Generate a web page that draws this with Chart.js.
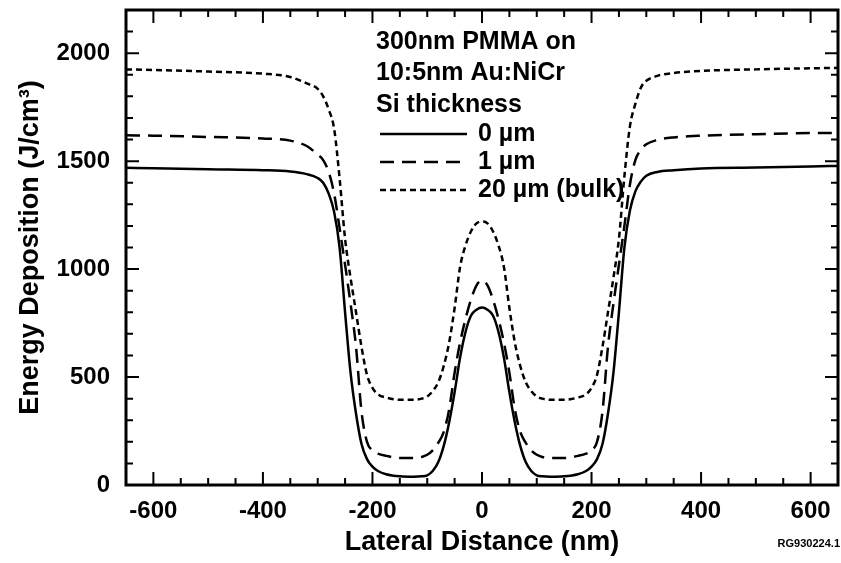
<!DOCTYPE html>
<html>
<head>
<meta charset="utf-8">
<script src="https://cdn.jsdelivr.net/npm/chart.js@4.4.1/dist/chart.umd.min.js"></script>
<style>
  html, body { margin: 0; padding: 0; background: #fff; }
</style>
</head>
<body>
<canvas id="myChart" width="841" height="563"></canvas>
<script>
// lateral distance (nm)
const distance = [
  -650, -600, -500, -400, -350, -320, -300, -290, -280, -270, -260, -250, -240, -230, -220, -210,
  -200, -190, -175, -150, -125, -110, -100, -90, -80, -70, -60, -50, -40, -30, -20, -10, 0,
  10, 20, 30, 40, 50, 60, 70, 80, 90, 100, 110, 125, 150, 175, 190, 200,
  210, 220, 230, 240, 250, 260, 270, 280, 290, 300, 320, 350, 400, 500, 600, 650
];
// energy deposition (J/cm3), Si thickness 0 um
const si0 = [
  1469, 1467, 1462, 1458, 1452, 1440, 1422, 1400, 1350, 1265, 1100, 800, 520, 330, 190, 120,
  85, 65, 50, 40, 38, 40, 45, 65, 105, 180, 290, 430, 590, 710, 785, 812, 822,
  812, 785, 710, 590, 430, 290, 180, 105, 65, 45, 40, 38, 40, 50, 65, 85,
  120, 190, 330, 520, 800, 1100, 1270, 1360, 1405, 1432, 1450, 1458, 1466, 1470, 1475, 1478
];
// Si thickness 1 um
const si1 = [
  1620, 1618, 1612, 1605, 1595, 1570, 1530, 1505, 1450, 1350, 1190, 1020, 840, 640, 340, 200,
  160, 145, 135, 125, 125, 130, 140, 160, 195, 245, 350, 520, 660, 770, 860, 925, 947,
  925, 860, 770, 660, 520, 350, 245, 195, 160, 140, 130, 125, 125, 135, 145, 160,
  200, 340, 640, 840, 1020, 1200, 1390, 1505, 1552, 1578, 1598, 1610, 1618, 1625, 1630, 1631
];
// Si thickness 20 um (bulk)
const si20 = [
  1925, 1922, 1915, 1905, 1890, 1860, 1835, 1800, 1740, 1650, 1420, 1140, 960, 800, 640, 510,
  450, 420, 405, 395, 395, 400, 410, 435, 475, 550, 660, 820, 1010, 1110, 1175, 1212, 1220,
  1212, 1175, 1110, 1010, 820, 660, 550, 475, 435, 410, 400, 395, 395, 405, 420, 450,
  510, 640, 800, 960, 1140, 1430, 1660, 1765, 1840, 1872, 1895, 1908, 1918, 1925, 1930, 1932
];
const seriesLabels = ['0 \u00b5m', '1 \u00b5m', '20 \u00b5m (bulk)'];
const seriesDash = [[], [14, 8], [6, 4]];
const xTickValues = [-600, -400, -200, 0, 200, 400, 600];
const yTickValues = [0, 500, 1000, 1500, 2000];
const notes = ['300nm PMMA on', '10:5nm Au:NiCr', 'Si thickness'];
const refCode = 'RG930224.1';

const FONT = "'Liberation Sans', Arial, Helvetica, sans-serif";

function pts(vals) {
  return distance.map((d, i) => ({ x: d, y: vals[i] }));
}

function noPad(s) {
  s.paddingTop = 0; s.paddingBottom = 0; s.paddingLeft = 0; s.paddingRight = 0;
}

const frame = {
  id: 'frame',
  afterDraw(chart) {
    const { ctx, chartArea: a, scales: { x, y } } = chart;
    ctx.save();
    ctx.strokeStyle = '#000';
    ctx.lineCap = 'butt';
    ctx.lineWidth = 2;
    ctx.beginPath();
    for (let v = -650; v <= 650; v += 50) {
      const px = x.getPixelForValue(v);
      const len = v % 200 === 0 ? 13 : 7;
      ctx.moveTo(px, a.bottom); ctx.lineTo(px, a.bottom - len);
      ctx.moveTo(px, a.top); ctx.lineTo(px, a.top + len);
    }
    for (let v = 0; v <= 2200; v += 100) {
      const py = y.getPixelForValue(v);
      const len = v % 500 === 0 ? 13 : 7;
      ctx.moveTo(a.left, py); ctx.lineTo(a.left + len, py);
      ctx.moveTo(a.right, py); ctx.lineTo(a.right - len, py);
    }
    ctx.stroke();
    ctx.lineWidth = 3;
    ctx.strokeRect(a.left, a.top, a.right - a.left, a.bottom - a.top);

    // annotation and legend
    ctx.fillStyle = '#000';
    ctx.font = 'bold 25px ' + FONT;
    ctx.textBaseline = 'middle';
    ctx.textAlign = 'left';
    notes.forEach((t, i) => ctx.fillText(t, 376, 42 + i * 31.5));
    chart.data.datasets.forEach((ds, i) => {
      const ly = 134 + i * 28;
      ctx.lineWidth = 2.5;
      ctx.setLineDash(ds.borderDash);
      ctx.beginPath();
      ctx.moveTo(380, ly); ctx.lineTo(467, ly);
      ctx.stroke();
      ctx.setLineDash([]);
      ctx.fillText(ds.label, 478, ly);
    });

    ctx.font = 'bold 11px ' + FONT;
    ctx.textAlign = 'right';
    ctx.fillText(refCode, 840, 544);
    ctx.restore();
  }
};

const data = {
  datasets: [si0, si1, si20].map((vals, i) => ({
    label: seriesLabels[i],
    data: pts(vals),
    borderColor: '#000',
    borderWidth: 2.5,
    borderDash: seriesDash[i],
    pointRadius: 0,
    fill: false,
    cubicInterpolationMode: 'monotone'
  }))
};

const config = {
  type: 'line',
  data: data,
  options: {
    responsive: false,
    animation: false,
    layout: { padding: { top: 10, right: 3, left: 0, bottom: 0 } },
    plugins: { legend: { display: false }, tooltip: { enabled: false } },
    scales: {
      x: {
        type: 'linear',
        min: -650,
        max: 650,
        afterBuildTicks: s => { s.ticks = xTickValues.map(v => ({ value: v })); },
        afterFit: s => { s.height = 78; noPad(s); },
        grid: { display: false, drawTicks: false },
        border: { display: false },
        ticks: {
          color: '#000',
          padding: 12,
          maxRotation: 0,
          autoSkip: false,
          font: { family: FONT, size: 24, weight: 'bold' },
          callback: v => String(v)
        },
        title: {
          display: true,
          text: 'Lateral Distance (nm)',
          color: '#000',
          font: { family: FONT, size: 27, weight: 'bold' },
          padding: { top: 0, bottom: 4 }
        }
      },
      y: {
        type: 'linear',
        min: 0,
        max: 2200,
        afterBuildTicks: s => { s.ticks = yTickValues.map(v => ({ value: v })); },
        afterFit: s => { s.width = 126; noPad(s); },
        grid: { display: false, drawTicks: false },
        border: { display: false },
        ticks: {
          color: '#000',
          padding: 16,
          autoSkip: false,
          font: { family: FONT, size: 24, weight: 'bold' },
          callback: v => String(v)
        },
        title: {
          display: true,
          text: 'Energy Deposition (J/cm\u00b3)',
          color: '#000',
          font: { family: FONT, size: 27, weight: 'bold' },
          padding: { top: 14, bottom: 0 }
        }
      }
    }
  },
  plugins: [frame]
};

const myChart = new Chart(document.getElementById('myChart'), config);
</script>
</body>
</html>
